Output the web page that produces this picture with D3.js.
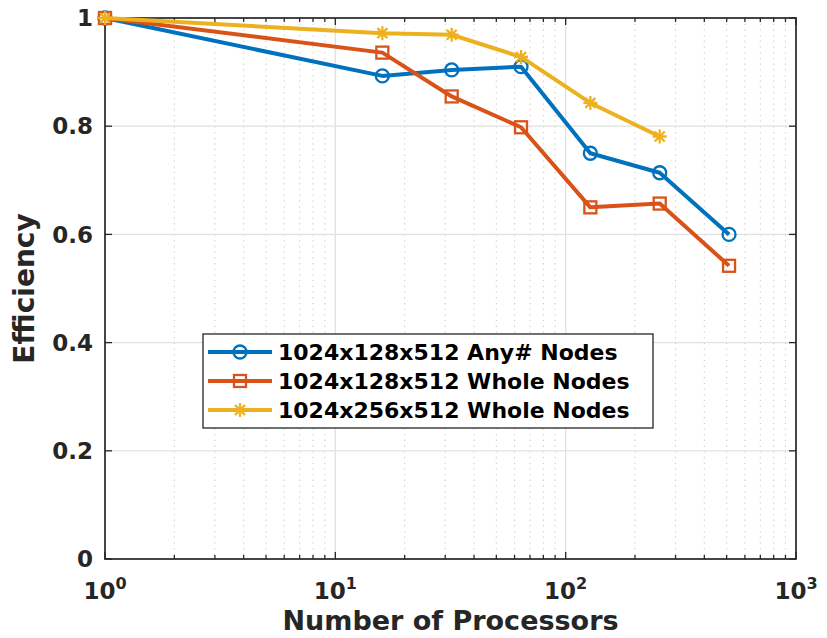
<!DOCTYPE html>
<html><head><meta charset="utf-8">
<script src="https://cdn.jsdelivr.net/npm/d3@7"></script>
<style>body{margin:0;background:#fff;} svg{display:block;} text{font-family:"DejaVu Sans",sans-serif;font-weight:bold;fill:#262626;}</style>
</head><body>
<svg id="c" width="827" height="638"></svg>
<script>
const processors = [1, 16, 32, 64, 128, 256, 512];
const anyNodes128 = [1.0, 0.893, 0.904, 0.910, 0.750, 0.714, 0.600];
const wholeNodes128 = [1.0, 0.936, 0.855, 0.798, 0.650, 0.657, 0.542];
const processors256 = [1, 16, 32, 64, 128, 256];
const wholeNodes256 = [1.0, 0.972, 0.969, 0.928, 0.843, 0.781];
const seriesNames = ["1024x128x512 Any# Nodes", "1024x128x512 Whole Nodes", "1024x256x512 Whole Nodes"];
const yTicks = [0, 0.2, 0.4, 0.6, 0.8, 1];
const xTicks = [1, 10, 100, 1000];

const series = [
  {name: seriesNames[0], xs: processors, ys: anyNodes128, color: "#0072BD", marker: "circle"},
  {name: seriesNames[1], xs: processors, ys: wholeNodes128, color: "#D95319", marker: "square"},
  {name: seriesNames[2], xs: processors256, ys: wholeNodes256, color: "#EDB120", marker: "star"}
];

const svg = d3.select("#c");
const L = 105, R = 796, T = 18, B = 559;
const x = d3.scaleLog().domain([1, 1000]).range([L, R]);
const y = d3.scaleLinear().domain([0, 1]).range([B, T]);

const minor = [];
for (let d = 1; d < 1000; d *= 10) for (let k = 2; k <= 9; k++) minor.push(d * k);

const g = svg.append("g");
g.selectAll(".mg").data(minor).enter().append("line")
  .attr("x1", d => x(d)).attr("x2", d => x(d)).attr("y1", T).attr("y2", B)
  .attr("stroke", "#c4c4c4").attr("stroke-width", 1).attr("stroke-dasharray", "1.2,4.5");
g.selectAll(".gx").data(xTicks.slice(1, -1)).enter().append("line")
  .attr("x1", d => x(d)).attr("x2", d => x(d)).attr("y1", T).attr("y2", B)
  .attr("stroke", "#e1e1e1").attr("stroke-width", 1.3);
g.selectAll(".gy").data(yTicks.slice(1, -1)).enter().append("line")
  .attr("x1", L).attr("x2", R).attr("y1", d => y(d)).attr("y2", d => y(d))
  .attr("stroke", "#e1e1e1").attr("stroke-width", 1.3);

const tk = svg.append("g").attr("stroke", "#262626").attr("stroke-width", 1.3);
xTicks.forEach(d => {
  tk.append("line").attr("x1", x(d)).attr("x2", x(d)).attr("y1", B).attr("y2", B - 7);
  tk.append("line").attr("x1", x(d)).attr("x2", x(d)).attr("y1", T).attr("y2", T + 7);
});
minor.forEach(d => {
  tk.append("line").attr("x1", x(d)).attr("x2", x(d)).attr("y1", B).attr("y2", B - 4);
  tk.append("line").attr("x1", x(d)).attr("x2", x(d)).attr("y1", T).attr("y2", T + 4);
});
yTicks.forEach(d => {
  tk.append("line").attr("x1", L).attr("x2", L + 7).attr("y1", y(d)).attr("y2", y(d));
  tk.append("line").attr("x1", R).attr("x2", R - 7).attr("y1", y(d)).attr("y2", y(d));
});

svg.append("rect").attr("x", L).attr("y", T).attr("width", R - L).attr("height", B - T)
  .attr("fill", "none").attr("stroke", "#262626").attr("stroke-width", 1.7);

yTicks.forEach(d => {
  svg.append("text").attr("x", L - 12).attr("y", y(d)).attr("dy", "0.36em")
    .attr("text-anchor", "end").attr("font-size", 23).text(d3.format("~g")(d));
});
const exps = ["0", "1", "2", "3"];
xTicks.forEach((d, i) => {
  const t = svg.append("text").attr("x", x(d)).attr("y", 599).attr("text-anchor", "middle").attr("font-size", 23);
  t.append("tspan").text("10");
  t.append("tspan").attr("font-size", 16).attr("dy", -10).text(exps[i]);
});

svg.append("text").attr("x", (L + R) / 2).attr("y", 630).attr("text-anchor", "middle")
  .attr("font-size", 27).text("Number of Processors");
svg.append("text").attr("transform", `translate(34,${(T + B) / 2}) rotate(-90)`)
  .attr("text-anchor", "middle").attr("font-size", 28).text("Efficiency");

function drawMarker(sel, type, color) {
  if (type === "circle") {
    sel.append("circle").attr("r", 6.5).attr("fill", "none").attr("stroke", color).attr("stroke-width", 2.3);
  } else if (type === "square") {
    sel.append("rect").attr("x", -6).attr("y", -6).attr("width", 12).attr("height", 12)
      .attr("fill", "none").attr("stroke", color).attr("stroke-width", 2.3);
  } else {
    const s = 7, dd = 5;
    sel.append("path").attr("d", `M${-s},0L${s},0M0,${-s}L0,${s}M${-dd},${-dd}L${dd},${dd}M${-dd},${dd}L${dd},${-dd}`)
      .attr("stroke", color).attr("stroke-width", 2.3).attr("fill", "none");
  }
}

const line = d3.line().x(d => x(d[0])).y(d => y(d[1]));
series.forEach(s => {
  const pts = s.xs.map((v, i) => [v, s.ys[i]]);
  svg.append("path").datum(pts).attr("d", line).attr("fill", "none")
    .attr("stroke", s.color).attr("stroke-width", 4).attr("stroke-linejoin", "round");
  pts.forEach(p => {
    const m = svg.append("g").attr("transform", `translate(${x(p[0])},${y(p[1])})`);
    drawMarker(m, s.marker, s.color);
  });
});

const lg = svg.append("g");
lg.append("rect").attr("x", 203).attr("y", 334).attr("width", 450).attr("height", 94)
  .attr("fill", "#fff").attr("stroke", "#262626").attr("stroke-width", 1.3);
series.forEach((s, i) => {
  const yy = 352 + i * 29;
  lg.append("line").attr("x1", 208).attr("x2", 272).attr("y1", yy).attr("y2", yy)
    .attr("stroke", s.color).attr("stroke-width", 4);
  const m = lg.append("g").attr("transform", `translate(240,${yy})`);
  drawMarker(m, s.marker, s.color);
  lg.append("text").attr("x", 278).attr("y", yy).attr("dy", "0.36em").attr("font-size", 22)
    .style("fill", "#000").text(s.name);
});
</script>
</body></html>
